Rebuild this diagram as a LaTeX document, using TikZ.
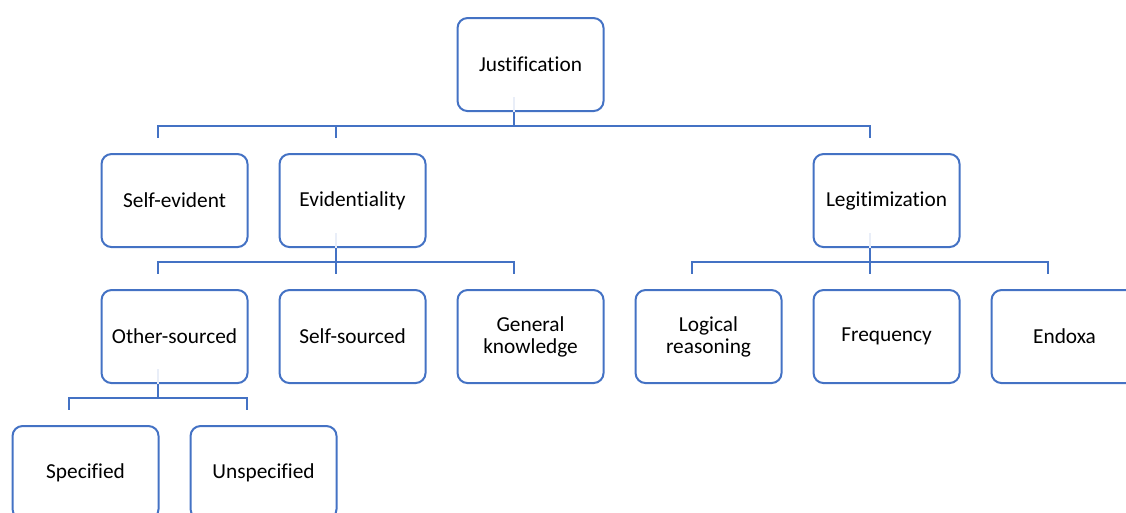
\documentclass[tikz,border=0pt]{standalone}
\usepackage{fontspec}
\setmainfont{Carlito}[Ligatures=NoCommon]
\usepackage{tikz}
\usetikzlibrary{positioning}
\definecolor{smartblue}{HTML}{4472C4}
\tikzset{
    %Define style for boxes
    box/.style={
           rectangle,
           rounded corners=7.5pt,
           draw=smartblue, line width=1.5pt,
           minimum width=109.5pt,
           minimum height=69.75pt,
           font=\fontsize{16}{16.5}\selectfont,
           align=center,
           text centered},
    % Define connector style
    link/.style={
           draw=smartblue,
           line width=1.5pt},
    faint/.style={
           draw=smartblue!12,
           line width=1.5pt}
}

\begin{document}
\begin{tikzpicture}[node distance=30.75pt and 22.5pt]
\useasboundingbox (0,0) rectangle (844.5pt,-384pt);
\node[box] (just) at (397.9pt,-48.4pt) {Justification};
\node[box, below left=of just] (evid) {Evidentiality};
\node[box, left=of evid] (selfev) {Self-evident};
\node[box, below=of selfev] (other) {Other-sourced};
\node[box, right=of other] (selfsrc) {Self-sourced};
\node[box, right=of selfsrc] (genk) {General\\knowledge};
\node[box, right=of genk] (logic) {Logical\\reasoning};
\node[box, right=of logic] (freq) {Frequency};
\node[box, right=of freq] (endoxa) {Endoxa};
\node[box, above=of freq] (legit) {Legitimization};
\node[box, below=of other, xshift=-66.75pt] (spec) {Specified};
\node[box, right=of spec] (unspec) {Unspecified};
% connectors
\foreach \p/\cs in {just/{selfev,evid,legit},
                    evid/{other,selfsrc,genk},
                    legit/{logic,freq,endoxa},
                    other/{spec,unspec}}{
  \draw[faint] ([xshift=-12.4pt]\p.south) -- ++(0,11pt);
  \foreach \c in \cs
    \draw[link] ([xshift=-12.4pt]\p.south) -- ++(0,-10.5pt)
      -| ([xshift=-12.4pt,yshift=11pt]\c.north);
}
\end{tikzpicture}
\end{document}
